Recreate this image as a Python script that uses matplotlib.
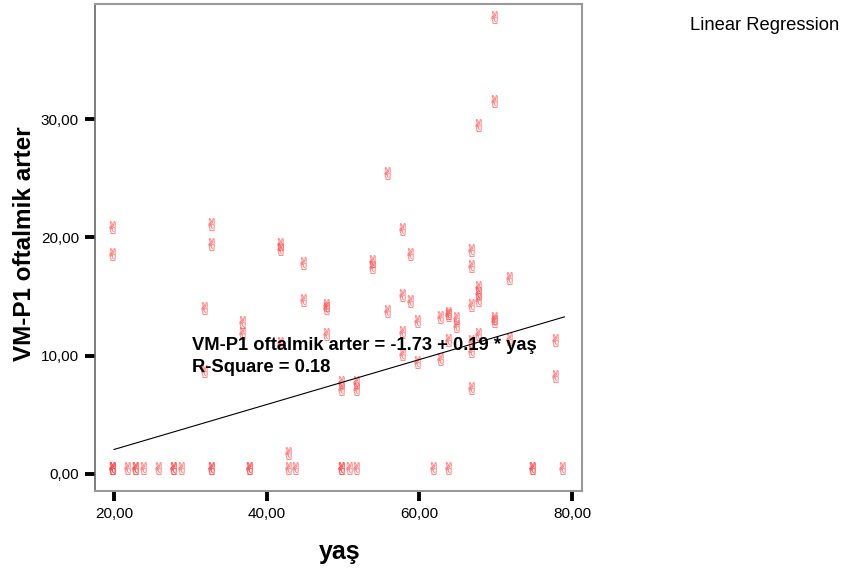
import matplotlib
matplotlib.use("Agg")
import matplotlib.pyplot as plt
import matplotlib.transforms as mtransforms
from matplotlib.ticker import FuncFormatter, FixedLocator
import numpy as np

plt.rcParams['font.family'] = ['Liberation Sans', 'DejaVu Sans']

# ---- data ----
age = [20, 20, 20, 22, 23, 23, 24, 26, 28, 28, 29, 33, 33, 38, 38, 43, 44, 50, 50, 51, 52,
       62, 64, 75, 75, 79, 43,
       70, 70, 68, 56, 20, 20, 33, 33, 42, 42, 45, 54, 54, 58, 59, 67, 67, 72,
       68, 68, 68, 67, 45, 58, 59, 32, 48, 48, 56, 37, 37, 63, 64, 64, 65, 65,
       60, 58, 70, 70, 67, 68, 78, 78, 67, 58, 60, 63, 67, 48, 42, 32, 50, 50,
       52, 52, 64, 72]
vm_p1 = [0, 0, 0, 0, 0, 0, 0, 0, 0, 0, 0, 0, 0, 0, 0, 0, 0, 0, 0, 0, 0,
         0, 0, 0, 0, 0, 1.3,
         38.1, 31.0, 29.0, 24.9, 20.4, 18.1, 20.6, 18.9, 18.9, 18.5, 17.3, 17.5, 17.0, 20.2, 18.1, 18.4, 17.1, 16.1,
         15.3, 14.8, 14.2, 13.8, 14.2, 14.6, 14.1, 13.5, 13.8, 13.5, 13.3, 12.3, 11.4, 12.8, 13.1, 12.9, 12.7, 12.0,
         12.4, 11.5, 12.7, 12.4, 10.7, 11.3, 10.8, 7.8, 6.8, 9.6, 9.0, 9.2, 9.9, 11.3, 10.6, 8.2, 7.3, 6.7,
         7.3, 6.7, 10.8, 10.9]
intercept = -1.73
slope = 0.19
r_square = 0.18
x_ticks = [20, 40, 60, 80]
y_ticks = [0, 10, 20, 30]

fig = plt.figure(figsize=(8.43, 5.75), dpi=100)
ax = fig.add_axes([95/843, 1 - 491/575, 487/843, 487/575])

# victory-hand markers, glyph bottom sitting on the data point
offset = mtransforms.ScaledTranslation(-2/100, 6/100, fig.dpi_scale_trans)
ax.plot(age, vm_p1, linestyle='none', marker='$\u270C$', markersize=9,
        color='#ff3b3b', alpha=0.5, markeredgewidth=0.3,
        transform=ax.transData + offset, zorder=2)

# regression line
xs = np.array([min(age), max(age)])
ax.plot(xs, intercept + slope * xs, color='black', linewidth=0.8, zorder=3)

ax.text(30.2, 10.9, f"VM-P1 oftalmik arter = {intercept:.2f} + {slope:.2f} * yaş",
        fontsize=13.2, fontweight='bold', va='center', ha='left', zorder=4)
ax.text(30.2, 9.0, f"R-Square = {r_square:.2f}",
        fontsize=13.2, fontweight='bold', va='center', ha='left', zorder=4)

ax.set_xlim(17.51, 81.31)
ax.set_ylim(-1.44, 39.73)
ax.xaxis.set_major_locator(FixedLocator(x_ticks))
ax.yaxis.set_major_locator(FixedLocator(y_ticks))
fmt = FuncFormatter(lambda v, p: f"{v:.2f}".replace('.', ','))
ax.xaxis.set_major_formatter(fmt)
ax.yaxis.set_major_formatter(fmt)
ax.tick_params(axis='both', direction='out', length=7.5, width=2.8, color='black',
               labelsize=11, pad=4)
for side in ['top', 'right', 'bottom']:
    ax.spines[side].set_color('#999999')
    ax.spines[side].set_linewidth(1.5)
ax.spines['left'].set_color('#666666')
ax.spines['left'].set_linewidth(1.2)

fig.text(25/843, 1 - 244/575, "VM-P1 oftalmik arter", rotation=90, ha='center', va='center',
         fontsize=17.5, fontweight='bold')
fig.text(340/843, 1 - 552/575, "yaş", ha='center', va='center', fontsize=18, fontweight='bold')
fig.text(690/843, 1 - 25/575, "Linear Regression", ha='left', va='center', fontsize=13.2)

fig.savefig("out.png", dpi=100)
